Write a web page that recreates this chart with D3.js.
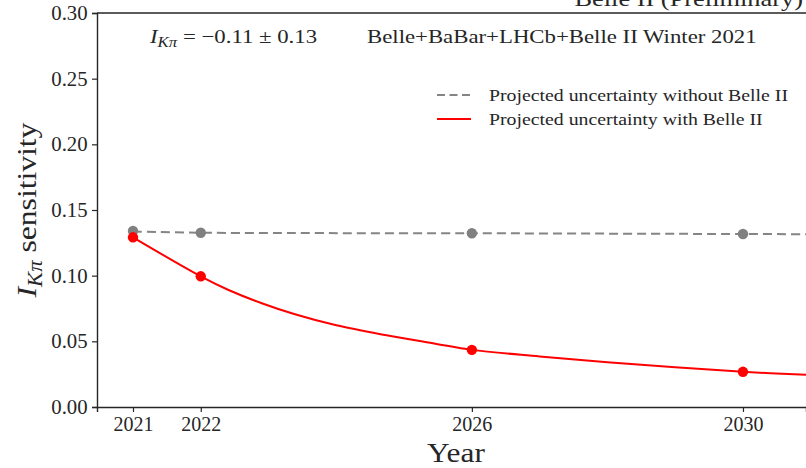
<!DOCTYPE html>
<html><head><meta charset="utf-8">
<script src="https://cdn.jsdelivr.net/npm/d3@7/dist/d3.min.js"></script>
<style>body{margin:0;background:#fff}svg{display:block}</style>
</head><body><svg id="c" width="806" height="468"></svg>
<script>
const xTicks = [2021, 2022, 2026, 2030];
const yTicks = [0.00, 0.05, 0.10, 0.15, 0.20, 0.25, 0.30];
const pointYears = [2021, 2022, 2026, 2030];
const withoutBelle = [0.1340, 0.1327, 0.1323, 0.1317];
const withBelle = [0.1292, 0.0995, 0.0435, 0.0268];
// line traces (incl. beyond last marker)
const greyLineYears = [2021, 2022, 2026, 2030, 2031.5];
const greyLineValues = [0.1336, 0.1327, 0.1323, 0.1317, 0.1315];
const redLineYears = [2021, 2022, 2022.41, 2022.90, 2023.39, 2024.0, 2024.72, 2025.46, 2026, 2027, 2028, 2029, 2030, 2031];
const redLineValues = [0.1292, 0.0995, 0.0891, 0.0790, 0.0706, 0.0622, 0.0548, 0.0482, 0.0435, 0.0385, 0.0340, 0.0302, 0.0268, 0.0243];

const svg = d3.select("#c");
const L = 97, R = 806, T = 13, B = 407;
const x = d3.scaleLinear().domain([2020.469, 2030.93]).range([L, R]);
const y = d3.scaleLinear().domain([0, 0.30]).range([B, T]);
const serif = "'Liberation Serif','DejaVu Serif',serif";
const ink = "#262626";

svg.append("defs").append("clipPath").attr("id","clip")
  .append("rect").attr("x",L).attr("y",T).attr("width",R-L).attr("height",B-T);

// axes
const xAx = svg.append("g").attr("transform",`translate(0,${B})`)
  .call(d3.axisBottom(x).tickValues(xTicks).tickFormat(d3.format("d")).tickSizeOuter(0).tickSize(5).tickPadding(5));
const yAx = svg.append("g").attr("transform",`translate(${L},0)`)
  .call(d3.axisLeft(y).tickValues(yTicks).tickFormat(d3.format(".2f")).tickSizeOuter(0).tickSize(5).tickPadding(4));
[xAx,yAx].forEach(a=>{
  a.selectAll("text").attr("font-family",serif).attr("font-size",20).attr("fill",ink);
  a.selectAll("line").attr("stroke",ink).attr("stroke-width",1.2);
  a.select(".domain").attr("stroke",ink).attr("stroke-width",1.4);
});
yAx.selectAll("text").attr("transform","scale(1.04,1)").attr("x",-9);
svg.append("line").attr("x1",L).attr("x2",R).attr("y1",T).attr("y2",T).attr("stroke",ink).attr("stroke-width",1.4);

const plot = svg.append("g").attr("clip-path","url(#clip)");
const line = d3.line().curve(d3.curveCatmullRom.alpha(0.5));
plot.append("path")
  .attr("d", line(greyLineYears.map((d,i)=>[x(d), y(greyLineValues[i])])))
  .attr("fill","none").attr("stroke","#858585").attr("stroke-width",2).attr("stroke-dasharray","9,5");
plot.append("path")
  .attr("d", line(redLineYears.map((d,i)=>[x(d), y(redLineValues[i])])))
  .attr("fill","none").attr("stroke","#ff0000").attr("stroke-width",2);
plot.selectAll(".g").data(pointYears).enter().append("circle")
  .attr("cx",d=>x(d)).attr("cy",(d,i)=>y(withoutBelle[i])).attr("r",5.2).attr("fill","#808080");
plot.selectAll(".r").data(pointYears).enter().append("circle")
  .attr("cx",d=>x(d)).attr("cy",(d,i)=>y(withBelle[i])).attr("r",5.2).attr("fill","#ff0000");

function stext(px, py, sx, size) {
  return svg.append("g").attr("transform",`translate(${px},${py}) scale(${sx},1)`)
    .append("text").attr("font-family",serif).attr("font-size",size).attr("fill",ink);
}

// legend
const lg = svg.append("g");
lg.append("line").attr("x1",437).attr("x2",471).attr("y1",95).attr("y2",95)
  .attr("stroke","#858585").attr("stroke-width",2).attr("stroke-dasharray","8,4.5");
lg.append("line").attr("x1",437).attr("x2",471).attr("y1",119).attr("y2",119)
  .attr("stroke","#ff0000").attr("stroke-width",2);
stext(489, 101, 1.2, 16.5).text("Projected uncertainty without Belle II");
stext(489, 125, 1.2, 16.5).text("Projected uncertainty with Belle II");

// annotation
const ann = stext(150, 43, 1.2, 19);
ann.append("tspan").attr("font-style","italic").text("I");
ann.append("tspan").attr("font-style","italic").attr("font-size",14).attr("dy",4).text("Kπ");
ann.append("tspan").attr("dy",-4).text(" = −0.11 ± 0.13");
stext(367, 43, 1.2, 19).text("Belle+BaBar+LHCb+Belle II Winter 2021");

// title (cut at top)
stext(803, 6, 1.2, 22).attr("text-anchor","end").text("Belle II (Preliminary)");

// axis labels
stext(456, 462, 1.12, 28).attr("text-anchor","middle").text("Year");
const yl = svg.append("g").attr("transform","translate(36,210) rotate(-90) scale(1.13,1)")
  .append("text").attr("text-anchor","middle").attr("font-family",serif).attr("font-size",28).attr("fill",ink);
yl.append("tspan").attr("font-style","italic").text("I");
yl.append("tspan").attr("font-style","italic").attr("font-size",20).attr("dy",6).text("Kπ");
yl.append("tspan").attr("dy",-6).text(" sensitivity");
</script></body></html>
